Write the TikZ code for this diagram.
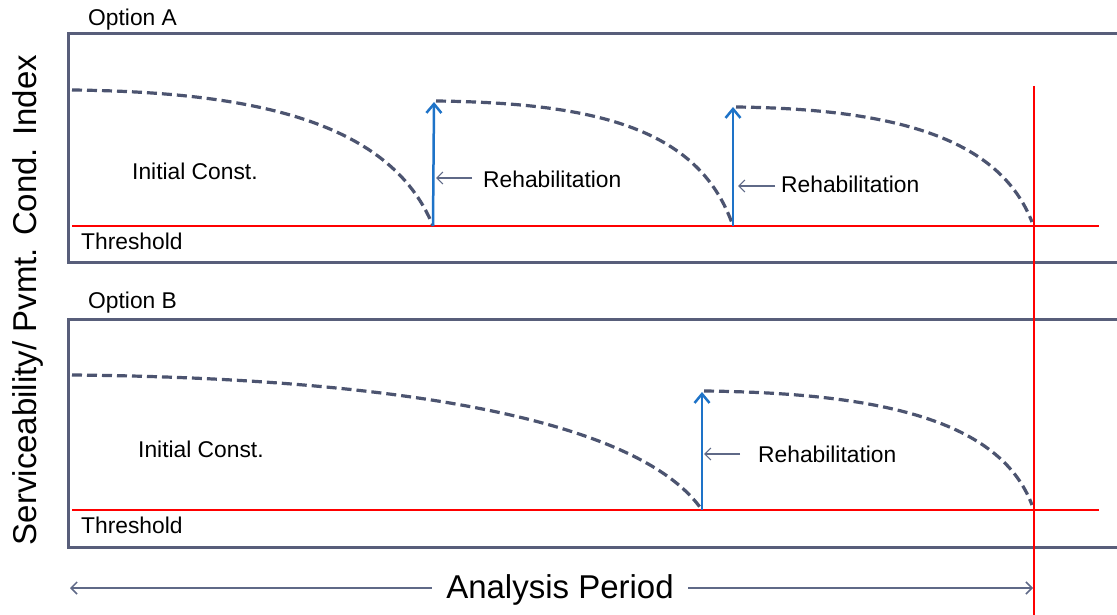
\documentclass[tikz,border=0pt]{standalone}
\usepackage{fontspec}
\setmainfont{Liberation Sans}
\usetikzlibrary{arrows.meta}
\definecolor{boxc}{RGB}{88,94,122}
\definecolor{dashc}{RGB}{76,84,112}
\definecolor{bluec}{RGB}{30,115,200}
\definecolor{ptrc}{RGB}{95,105,135}
\begin{document}
\begin{tikzpicture}[x=1pt,y=-1pt,
  frame/.style={draw=boxc, line width=3pt},
  curve/.style={draw=dashc, line width=3.2pt, dash pattern=on 10pt off 5pt},
  thresh/.style={draw=red, line width=2pt},
  rehab/.style={draw=bluec, line width=2.5pt, -{Straight Barb[length=9pt,width=15pt]}},
  pointer/.style={draw=ptrc, line width=1.2pt, -{Straight Barb[length=6pt,width=12pt]}},
  lbl/.style={font=\fontsize{22.8}{26}\selectfont, inner sep=0pt, anchor=base west},
  big/.style={font=\fontsize{33}{38}\selectfont, inner sep=0pt}]
\useasboundingbox (0,0) rectangle (1117,615);
\clip (0,0) rectangle (1117,615);
\fill[white] (0,0) rectangle (1117,615);

% frames
\draw[frame] (1130,34) -- (68,34) -- (68,262) -- (1130,262);
\draw[frame] (1130,319) -- (68,319) -- (68,547) -- (1130,547);

% labels
\node[lbl] (optA) at (88,26) {Option A};
\node[lbl] (optB) at (88,308) {Option B};
\node[lbl] (thA) at (81,249) {Threshold};
\node[lbl] (thB) at (81,533) {Threshold};
\node[lbl] (icA) at (132,180) {Initial Const.};
\node[lbl] (icB) at (138,457) {Initial Const.};
\node[lbl] (rA1) at (483,188) {Rehabilitation};
\node[lbl] (rA2) at (781,193) {Rehabilitation};
\node[lbl] (rB1) at (758,462) {Rehabilitation};

% threshold lines
\coordinate (tAl) at (72,226); \coordinate (tAr) at (1099,226);
\coordinate (tBl) at (72,510); \coordinate (tBr) at (1099,510);
\draw[thresh] (tAl) -- (tAr);
\draw[thresh] (tBl) -- (tBr);

% Option A curves
\coordinate (a0) at (72,90);
\coordinate (a1b) at (433,226); \coordinate (a1t) at (434,102);
\coordinate (a2s) at (436,101);
\coordinate (a2b) at (733,226); \coordinate (a2t) at (733,107);
\coordinate (a3s) at (736,107);
\coordinate (a3e) at (1032,222);
\draw[curve] (a0) .. controls (250,92) and (390,120) .. (a1b);
\draw[curve] (a2s) .. controls (600,103) and (700,130) .. (a2b);
\draw[curve] (a3s) .. controls (900,109) and (1000,140) .. (a3e);
\draw[rehab] (a1b) -- (a1t);
\draw[rehab] (a2b) -- (a2t);

% Option B curves
\coordinate (b0) at (72,375);
\coordinate (b1b) at (702,510); \coordinate (b1t) at (702,392);
\coordinate (b2s) at (704,391);
\coordinate (b2e) at (1032,505);
\draw[curve] (b0) .. controls (400,378) and (640,420) .. (b1b);
\draw[curve] (b2s) .. controls (880,393) and (1000,420) .. (b2e);
\draw[rehab] (b1b) -- (b1t);

% pointers
\coordinate (pA1) at (436,178);
\coordinate (pA2) at (738,186);
\coordinate (pB1) at (704,454);
\coordinate (pA1s) at (472,178);
\coordinate (pA2s) at (775,186);
\coordinate (pB1s) at (740,454);
\draw[pointer] (pA1s) -- (pA1);
\draw[pointer] (pA2s) -- (pA2);
\draw[pointer] (pB1s) -- (pB1);

% red vertical line
\coordinate (vt) at (1034,86); \coordinate (vb) at (1034,620);
\draw[thresh] (vt) -- (vb);

% analysis period
\coordinate (apL) at (70,588); \coordinate (apR) at (1033,588);
\draw[draw=ptrc, line width=1.5pt, {Straight Barb[length=6pt,width=12pt]}-{Straight Barb[length=6pt,width=12pt]}] (apL) -- (apR);
\node[big, fill=white, inner xsep=14pt, inner ysep=4pt] (ap) at (560,590) {Analysis Period};

% y label
\node[big, rotate=90, anchor=base] (ylab) at (36,300) {Serviceability/ Pvmt. Cond. Index};
\end{tikzpicture}
\end{document}
